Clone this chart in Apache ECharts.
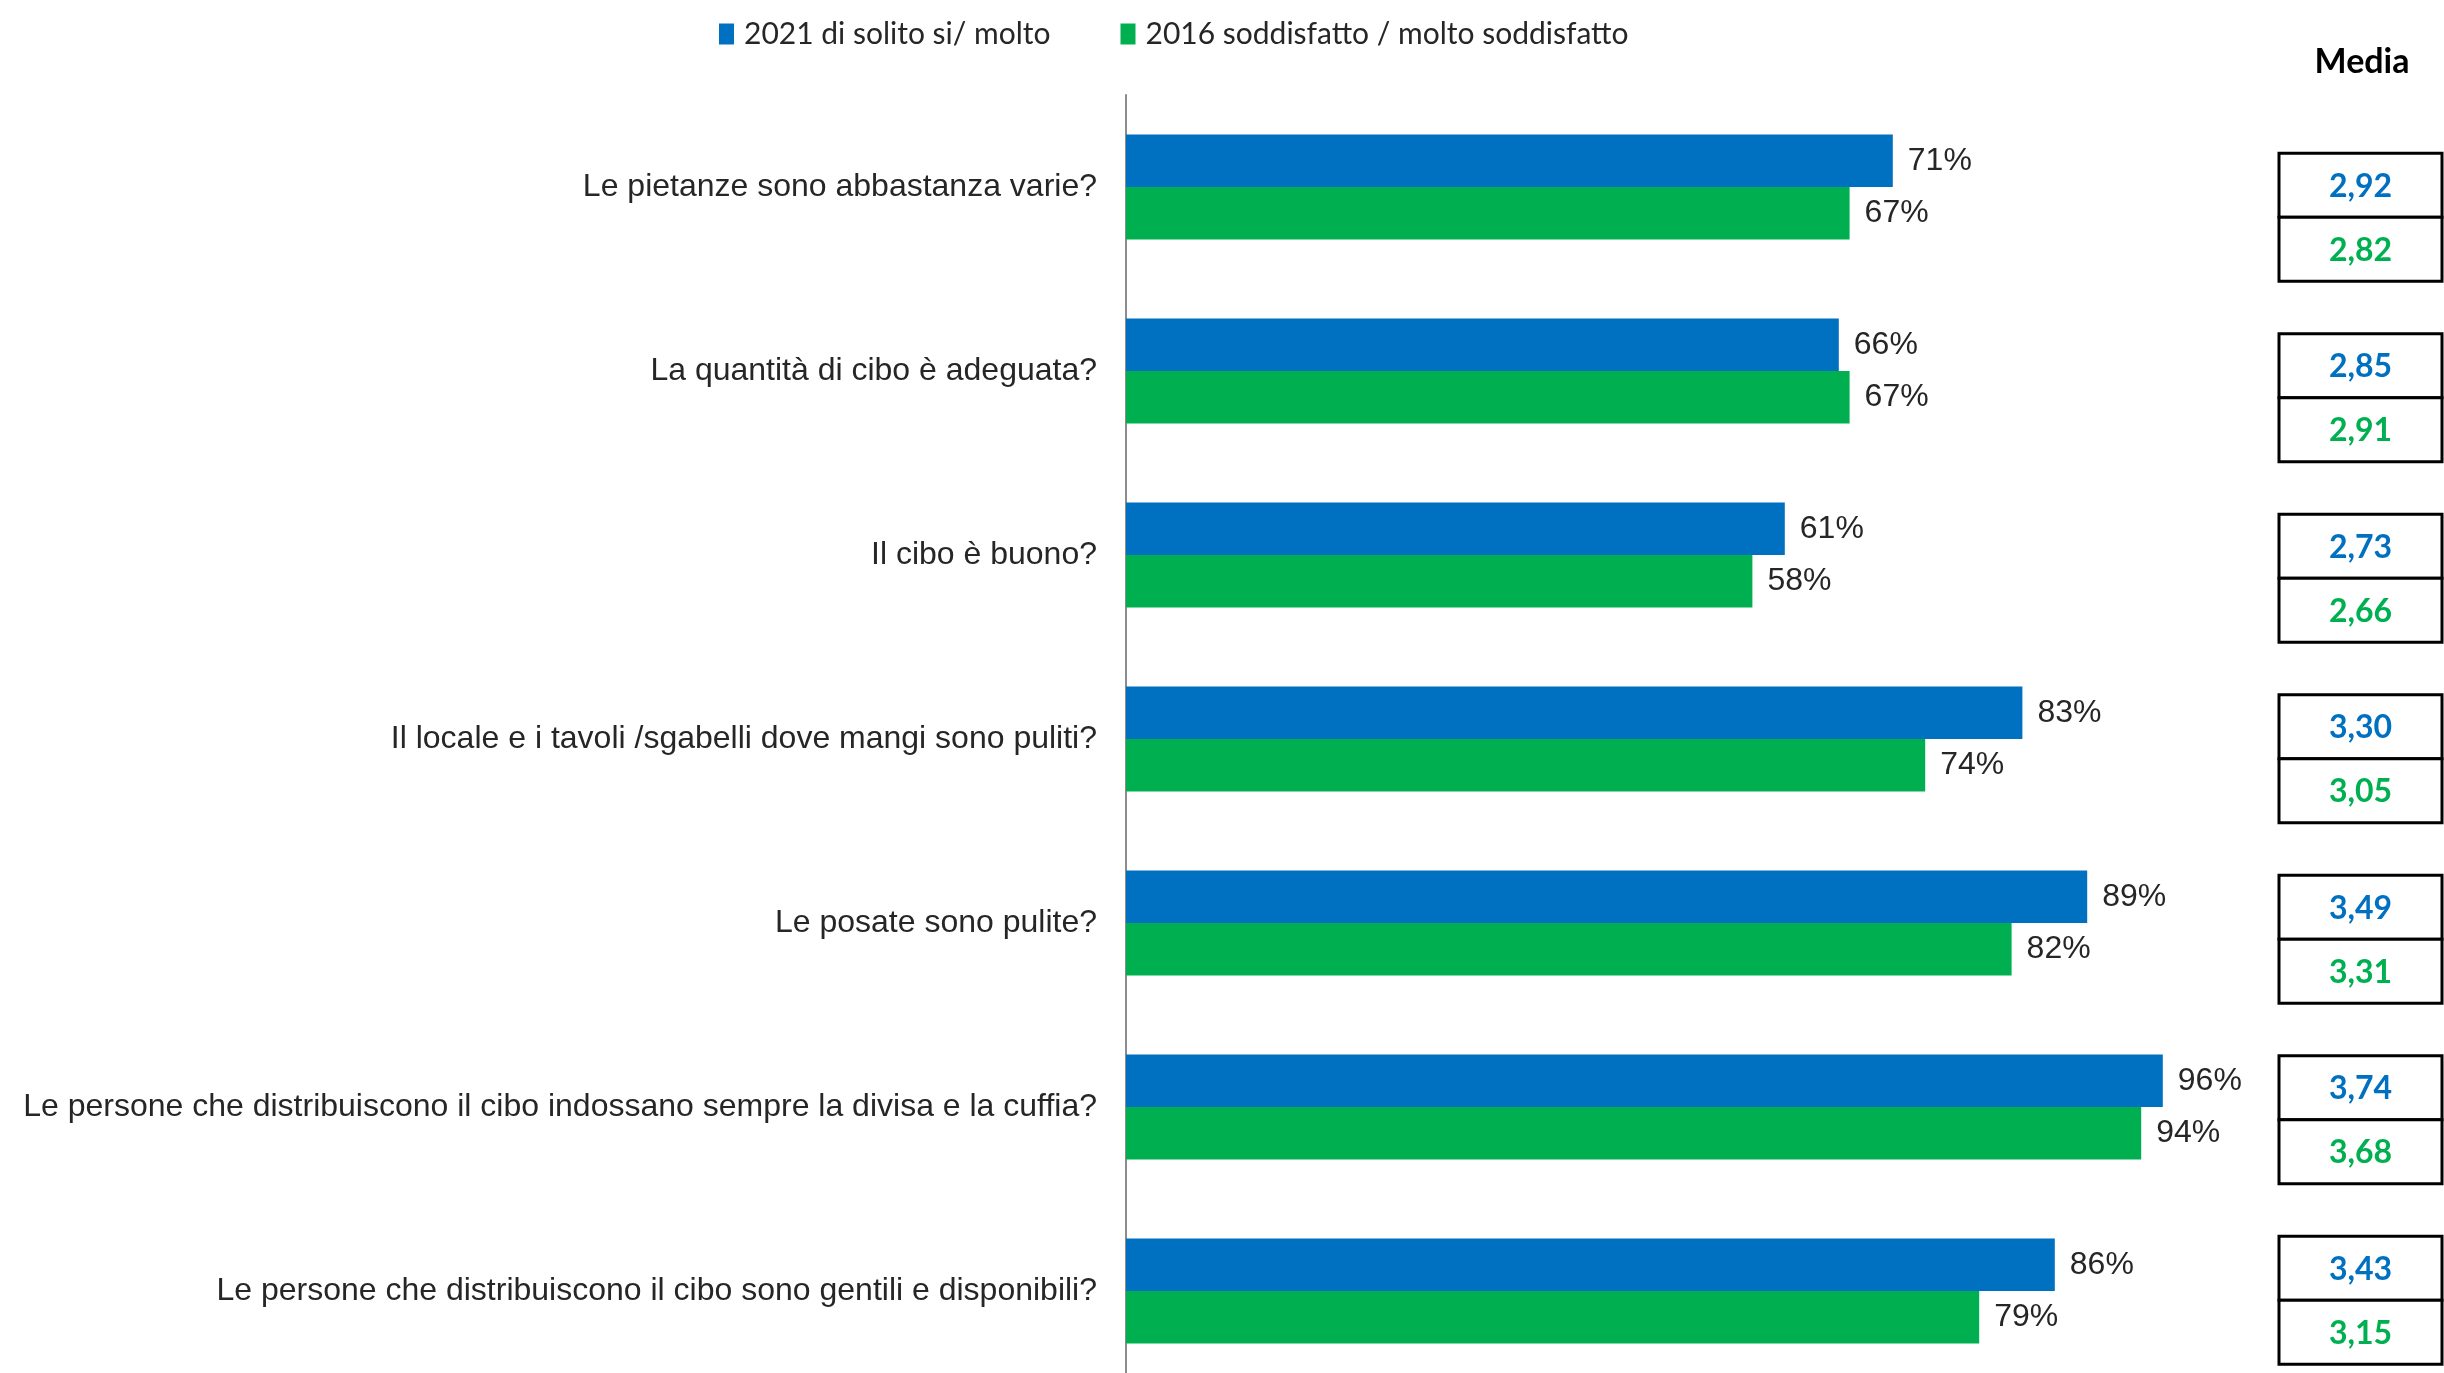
<!DOCTYPE html>
<html><head><meta charset="utf-8">
<script src="https://cdn.jsdelivr.net/npm/echarts/dist/echarts.min.js"></script>
<style>html,body{margin:0;padding:0;background:#fff}#c{width:2444px;height:1373px}</style>
</head><body><div id="c"></div>
<script>
const categories = [
  'Le pietanze sono abbastanza varie?',
  'La quantità di cibo è adeguata?',
  'Il cibo è buono?',
  'Il locale e i tavoli /sgabelli dove mangi sono puliti?',
  'Le posate sono pulite?',
  'Le persone che distribuiscono il cibo indossano sempre la divisa e la cuffia?',
  'Le persone che distribuiscono il cibo sono gentili e disponibili?'
];
const values2021 = [71, 66, 61, 83, 89, 96, 86];
const values2016 = [67, 67, 58, 74, 82, 94, 79];
const media2021 = [2.92, 2.85, 2.73, 3.30, 3.49, 3.74, 3.43];
const media2016 = [2.82, 2.91, 2.66, 3.05, 3.31, 3.68, 3.15];
const seriesNames = ['2021 di solito si/ molto', '2016 soddisfatto / molto soddisfatto'];
const mediaTitle = 'Media';

const BLUE = '#0070C0', GREEN = '#00B050', TXT = '#262626';
const fmt = v => v.toFixed(2).replace('.', ',');

function boxRender(top, color) {
  return function (params, api) {
    const i = api.value(1);
    const c = api.coord([0.5, i]);
    const cs = params.coordSys;
    const h = 64;
    const y0 = top ? c[1] - h : c[1];
    return {
      type: 'group',
      children: [
        { type: 'rect', shape: { x: cs.x, y: y0, width: cs.width, height: h },
          style: { fill: '#fff', stroke: '#000', lineWidth: 3 } },
        { type: 'text', style: { text: fmt(api.value(2)), x: cs.x + cs.width / 2, y: y0 + h / 2 + 1,
          align: 'center', verticalAlign: 'middle', fill: color, font: 'bold 32px Lato' } }
      ]
    };
  };
}

const chart = echarts.init(document.getElementById('c'));
chart.setOption({
  animation: false,
  backgroundColor: '#fff',
  title: {
    text: mediaTitle, left: 2357, top: 40, textAlign: 'center',
    textStyle: { fontFamily: 'Lato', fontWeight: 'bold', fontSize: 34, color: '#000' }
  },
  legend: {
    data: seriesNames, left: 719, top: 19, padding: 0, itemWidth: 15, itemHeight: 21, itemGap: 70, icon: 'rect',
    textStyle: { fontFamily: 'Lato', fontSize: 30, color: TXT, padding: [0, 0, 0, 5] }
  },
  grid: [
    { left: 1126, width: 1080, top: 95, height: 1288, outerBoundsMode: 'none', containLabel: false },
    { left: 2279, width: 163, top: 127, height: 1263.5, outerBoundsMode: 'none', containLabel: false }
  ],
  xAxis: [
    { type: 'value', min: 0, max: 100, show: false, gridIndex: 0 },
    { type: 'value', min: 0, max: 1, show: false, gridIndex: 1 }
  ],
  yAxis: [
    { type: 'category', data: categories, inverse: true, gridIndex: 0,
      axisLine: { lineStyle: { color: '#8c8c8c', width: 2 } },
      axisTick: { length: 7, lineStyle: { color: '#8c8c8c', width: 2 } },
      axisLabel: { fontFamily: 'Liberation Sans', fontSize: 32, color: TXT, margin: 29 } },
    { type: 'category', data: categories, inverse: true, gridIndex: 1, show: false }
  ],
  series: [
    { name: seriesNames[0], type: 'bar', data: values2021, barWidth: 52.5, barGap: '0%',
      itemStyle: { color: BLUE },
      label: { show: true, position: 'right', distance: 15, formatter: '{c}%',
        fontFamily: 'Liberation Sans', fontSize: 32, color: TXT } },
    { name: seriesNames[1], type: 'bar', data: values2016, barWidth: 52.5, barGap: '0%',
      itemStyle: { color: GREEN },
      label: { show: true, position: 'right', distance: 15, formatter: '{c}%',
        fontFamily: 'Liberation Sans', fontSize: 32, color: TXT } },
    { name: 'media2021', type: 'custom', xAxisIndex: 1, yAxisIndex: 1,
      renderItem: boxRender(true, BLUE),
      data: media2021.map((v, i) => [0.5, i, v]), encode: { x: 0, y: 1 } },
    { name: 'media2016', type: 'custom', xAxisIndex: 1, yAxisIndex: 1,
      renderItem: boxRender(false, GREEN),
      data: media2016.map((v, i) => [0.5, i, v]), encode: { x: 0, y: 1 } }
  ]
});
</script>
</body></html>
